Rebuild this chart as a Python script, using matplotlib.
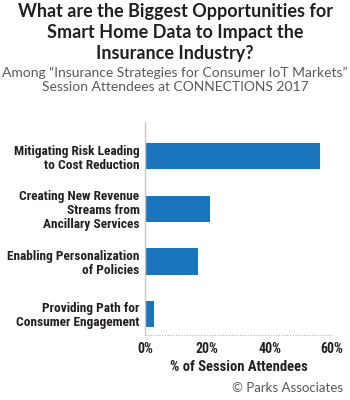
import matplotlib
matplotlib.use("Agg")
import matplotlib.pyplot as plt

# Survey results
categories = [
    "Mitigating Risk Leading\nto Cost Reduction",
    "Creating New Revenue\nStreams from\nAncillary Services",
    "Enabling Personalization\nof Policies",
    "Providing Path for\nConsumer Engagement",
]
values = [56, 21, 17, 3]
xticks = [0, 20, 40, 60]
xtick_labels = ["0%", "20%", "40%", "60%"]

BAR = "#1a75bc"
DARK = "#231f20"
GREY = "#58595b"

NARROW = ["Roboto Condensed", "Roboto"]
SANS = ["Lato", "DejaVu Sans"]

fig = plt.figure(figsize=(3.5, 4.0), dpi=100)
ax = fig.add_axes([145 / 350, 1 - 335 / 400, (332 - 145) / 350, (335 - 122) / 400])

ypos = list(range(len(values)))[::-1]
ax.barh(ypos, values, height=0.5, color=BAR)
ax.set_xlim(0, 60)
ax.set_ylim(-0.4, 3.65)

ax.set_yticks(ypos)
ax.set_yticklabels(categories, family=NARROW, fontweight="bold",
                   fontsize=9.6, color=DARK, linespacing=1.1)
ax.set_xticks(xticks)
ax.set_xticklabels(xtick_labels, family=NARROW, fontweight="bold",
                   fontsize=10, color=DARK)
ax.tick_params(length=0, pad=4)
ax.tick_params(axis="x", pad=5)

for s in ["top", "right", "bottom"]:
    ax.spines[s].set_visible(False)
ax.spines["left"].set_color("#c8c8c8")
ax.spines["left"].set_linewidth(1.0)
ax.axhline(-0.4, color="#b0b0b0", lw=0.8, ls=(0, (1, 1.5)), clip_on=False)

ax.set_xlabel("% of Session Attendees", family=NARROW, fontweight="bold",
              fontsize=10.5, color=DARK, labelpad=3)

fig.text(0.5, 1 - 3 / 400, "What are the Biggest Opportunities for\n"
         "Smart Home Data to Impact the\nInsurance Industry?",
         ha="center", va="top", family=SANS, fontweight="bold",
         fontsize=13, color=DARK, linespacing=1.3)
fig.text(0.5, 1 - 67 / 400, "Among \u201cInsurance Strategies for Consumer IoT Markets\u201d\n"
         "Session Attendees at CONNECTIONS 2017",
         ha="center", va="top", family=SANS, fontsize=10,
         color=GREY, linespacing=1.15)
fig.text(343 / 350, 1 - 388 / 400, "\u00a9 Parks Associates", ha="right",
         va="center", family=SANS, fontsize=9.5, color=GREY)

fig.savefig("out.png", dpi=100)
